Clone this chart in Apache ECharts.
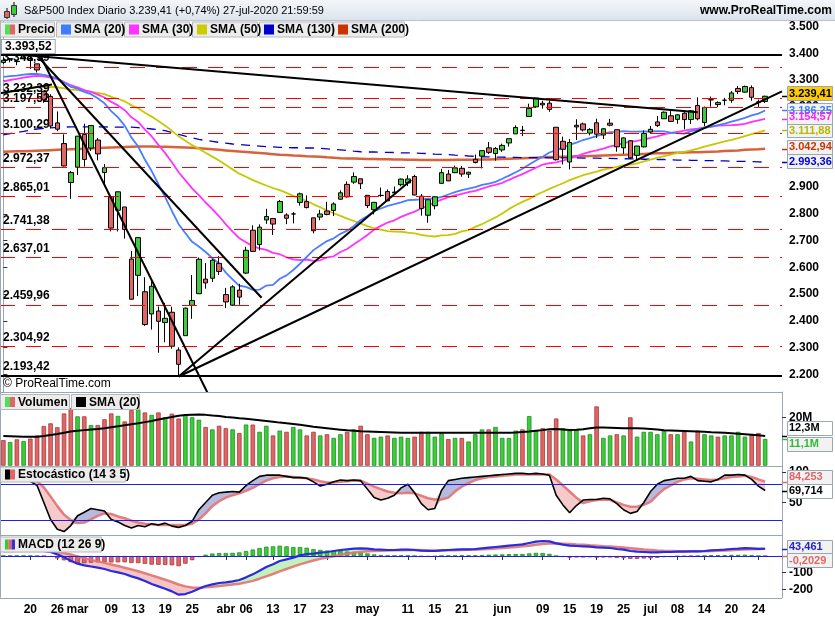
<!DOCTYPE html>
<html>
<head>
<meta charset="utf-8">
<script src="https://cdn.jsdelivr.net/npm/echarts@6/dist/echarts.min.js"></script>
<style>
html,body{margin:0;padding:0;background:#fff;}
#chart{width:835px;height:620px;}
</style>
</head>
<body>
<div id="chart"></div>
<script>
// daily sessions shown (DD/MM, 2020)
const dates = ['13/02','14/02','18/02','19/02','20/02','21/02','24/02','25/02','26/02','27/02','28/02',
'02/03','03/03','04/03','05/03','06/03','09/03','10/03','11/03','12/03','13/03','16/03','17/03','18/03','19/03','20/03','23/03','24/03','25/03','26/03','27/03','30/03','31/03',
'01/04','02/04','03/04','06/04','07/04','08/04','09/04','13/04','14/04','15/04','16/04','17/04','20/04','21/04','22/04','23/04','24/04','27/04','28/04','29/04','30/04',
'01/05','04/05','05/05','06/05','07/05','08/05','11/05','12/05','13/05','14/05','15/05','18/05','19/05','20/05','21/05','22/05','26/05','27/05','28/05','29/05',
'01/06','02/06','03/06','04/06','05/06','08/06','09/06','10/06','11/06','12/06','15/06','16/06','17/06','18/06','19/06','22/06','23/06','24/06','25/06','26/06','29/06','30/06',
'01/07','02/07','06/07','07/07','08/07','09/07','10/07','13/07','14/07','15/07','16/07','17/07','20/07','21/07','22/07','23/07','24/07','27/07'];

const opens = [3365.90,3378.08,3369.04,3380.39,3380.45,3360.50,3257.61,3238.94,3139.90,3062.54,2916.90,
2974.28,3096.46,3045.75,3075.70,2954.20,2863.89,2813.48,2825.60,2630.86,2569.99,2508.59,2425.66,2436.50,2393.48,2431.94,2290.71,2344.44,2457.77,2501.29,2555.87,2558.98,2614.69,
2498.08,2458.54,2514.92,2578.28,2738.65,2685.00,2776.99,2782.46,2805.10,2795.64,2799.34,2842.43,2845.62,2784.81,2787.89,2810.42,2812.64,2854.65,2909.96,2918.46,2930.91,
2869.09,2815.01,2868.88,2883.14,2878.26,2908.83,2915.46,2939.50,2865.86,2794.54,2829.95,2913.86,2948.59,2953.63,2969.95,2948.05,3004.08,3015.65,3046.61,3025.17,
3038.78,3064.78,3098.90,3111.56,3163.84,3199.92,3213.32,3213.42,3123.53,3071.04,2993.76,3131.00,3136.13,3101.64,3140.29,3094.42,3138.70,3114.40,3046.60,3073.20,3018.59,3050.20,
3105.92,3143.64,3155.29,3166.44,3153.07,3176.17,3152.47,3205.08,3141.11,3225.98,3208.36,3224.21,3224.29,3268.52,3254.86,3271.64,3218.58,3219.84];
const highs = [3385.09,3380.69,3375.01,3393.52,3389.15,3360.76,3259.81,3246.99,3182.51,3097.07,2959.72,
3090.96,3136.72,3130.97,3083.04,2985.93,2863.89,2882.59,2825.60,2660.95,2711.33,2562.98,2553.93,2453.57,2466.97,2453.01,2300.73,2449.71,2571.42,2637.01,2615.91,2631.80,2641.39,
2522.75,2533.22,2538.18,2676.85,2756.89,2760.75,2818.57,2782.46,2851.85,2801.88,2806.51,2879.22,2868.98,2785.54,2815.10,2844.90,2842.71,2887.72,2921.15,2954.86,2930.91,
2869.09,2844.24,2898.23,2891.11,2901.92,2932.16,2944.25,2945.82,2874.14,2852.80,2865.01,2968.09,2964.21,2980.29,2978.50,2956.76,3021.72,3036.25,3068.67,3049.17,
3062.18,3081.07,3130.94,3128.91,3211.72,3233.13,3222.71,3223.27,3123.53,3088.42,3079.76,3153.45,3141.16,3120.00,3155.53,3120.92,3154.90,3115.01,3086.25,3073.73,3053.89,3111.51,
3128.44,3165.81,3182.59,3184.15,3171.80,3179.78,3186.82,3235.32,3200.95,3238.28,3220.39,3233.52,3258.61,3277.29,3279.32,3279.99,3227.26,3241.43];
const lows = [3360.52,3366.15,3355.61,3378.83,3341.02,3328.45,3214.65,3118.77,3108.99,2977.39,2855.84,
2945.19,2976.63,3034.38,2999.83,2901.54,2734.43,2734.00,2707.22,2478.86,2492.37,2380.94,2367.04,2280.52,2319.78,2295.56,2191.86,2344.44,2407.53,2500.72,2520.02,2545.28,2571.15,
2447.49,2455.79,2459.96,2574.57,2657.67,2663.30,2762.36,2721.17,2805.10,2761.54,2764.32,2830.88,2820.43,2727.10,2775.95,2794.26,2791.76,2852.89,2860.71,2912.16,2892.47,
2821.61,2797.85,2863.55,2847.65,2876.48,2902.88,2903.44,2869.59,2793.15,2766.64,2816.78,2913.86,2922.35,2953.63,2938.57,2933.59,2988.17,2969.75,3023.40,2998.61,
3031.54,3051.64,3098.90,3090.41,3163.84,3196.00,3193.11,3181.49,2999.49,2984.47,2965.66,3076.06,3108.03,3093.51,3083.11,3079.39,3127.12,3032.13,3024.01,3004.63,2999.74,3047.83,
3101.17,3124.52,3155.29,3142.93,3136.53,3115.70,3136.22,3149.43,3127.66,3200.76,3198.59,3205.65,3215.16,3247.77,3253.10,3222.66,3200.05,3214.25];
const closes = [3373.94,3380.16,3370.29,3386.15,3373.23,3337.75,3225.89,3128.21,3116.39,2978.76,2954.22,
3090.23,3003.37,3130.12,3023.94,2972.37,2746.56,2882.23,2741.38,2480.64,2711.02,2386.13,2529.19,2398.10,2409.39,2304.92,2237.40,2447.33,2475.56,2630.07,2541.47,2626.65,2584.59,
2470.50,2526.90,2488.65,2663.68,2659.41,2749.98,2789.82,2761.63,2846.06,2783.36,2799.55,2874.56,2823.16,2736.56,2799.31,2797.80,2836.74,2878.48,2863.39,2939.51,2912.43,
2830.71,2842.74,2868.44,2848.42,2881.19,2929.80,2930.19,2870.12,2820.00,2852.50,2863.70,2953.91,2922.94,2971.61,2948.51,2955.45,2991.77,3036.13,3029.73,3044.31,
3055.73,3080.82,3122.87,3112.35,3193.93,3232.39,3207.18,3190.14,3002.10,3041.31,3066.59,3124.74,3113.49,3115.34,3097.74,3117.86,3131.29,3050.33,3083.76,3009.05,3053.24,3100.29,
3115.86,3130.01,3179.72,3145.32,3169.94,3152.05,3185.04,3155.22,3197.52,3226.56,3215.57,3224.73,3251.84,3257.30,3276.02,3235.66,3215.63,3239.41];
const prevClose = 3379.45;

const sma20 = [3311.5,3314.7,3316.7,3320.0,3322.6,3323.2,3319.7,3313.9,3305.9,3291.2,3274.7,
3267.9,3255.6,3247.2,3231.7,3213.0,3183.9,3160.4,3129.6,3084.7,3051.6,
3001.9,2959.8,2910.4,2862.2,2810.6,2761.2,2727.2,2695.2,2677.8,2657.2,
2634.0,2613.1,2580.1,2555.2,2531.0,2526.9,2515.8,2516.2,2531.7,2534.2,
2557.2,2569.9,2590.0,2613.3,2639.2,2664.2,2681.8,2697.9,2708.2,2725.1,
2736.9,2754.6,2776.7,2791.9,2809.6,2819.8,2829.3,2835.9,2842.9,2851.3,
2852.5,2854.3,2856.9,2856.4,2862.9,2872.2,2880.8,2888.3,2894.2,2899.9,
2908.5,2913.0,2919.6,2930.9,2942.8,2955.5,2968.7,2984.3,2999.4,3013.2,
3029.2,3038.3,3047.7,3057.8,3066.3,3075.8,3083.0,3090.5,3098.6,3105.6,
3106.3,3109.0,3107.2,3107.1,3108.1,3107.7,3108.6,3107.9,3103.5,3101.6,
3099.7,3108.8,3114.5,3121.0,3126.1,3131.2,3136.7,3144.4,3151.4,3158.6,
3167.9,3174.5,3186.25];
const sma30 = [3295.3,3300.2,3304.3,3309.3,3313.3,3315.4,3314.1,3308.8,3303.2,3292.9,3280.8,
3272.8,3262.2,3255.8,3245.7,3234.9,3218.3,3205.2,3187.5,3160.7,3143.5,
3114.7,3089.1,3057.9,3026.7,2992.6,2955.4,2925.1,2895.0,2870.2,2842.2,
2817.4,2790.7,2760.6,2733.6,2709.0,2693.5,2678.3,2670.7,2665.2,2654.2,
2649.0,2637.4,2629.9,2626.6,2629.2,2624.3,2626.2,2636.8,2641.0,2657.4,
2668.5,2686.5,2703.3,2720.8,2741.0,2755.0,2767.4,2775.8,2788.7,2798.8,
2808.3,2820.0,2830.9,2843.4,2853.1,2861.9,2869.3,2874.6,2881.1,2886.0,
2894.4,2902.1,2907.8,2915.6,2927.1,2937.9,2948.4,2960.3,2972.1,2983.6,
2989.0,2992.0,2999.0,3006.5,3015.0,3023.8,3031.6,3037.2,3043.5,3052.2,
3056.9,3064.6,3069.4,3072.7,3078.6,3083.4,3089.5,3097.0,3102.1,3106.6,
3110.7,3115.4,3118.7,3122.6,3126.1,3129.5,3130.5,3131.2,3132.9,3135.8,
3143.6,3149.4,3154.57];
const sma50 = [3249.2,3254.5,3259.6,3264.4,3269.1,3273.2,3274.9,3274.1,3273.1,3268.8,3264.0,
3262.0,3258.0,3256.2,3252.2,3247.2,3237.3,3230.1,3220.5,3205.5,3194.6,
3177.6,3163.3,3146.5,3129.6,3110.2,3089.6,3072.8,3056.6,3043.4,3027.9,
3013.8,2999.1,2982.1,2966.1,2950.0,2938.4,2926.1,2915.6,2905.7,2896.4,
2888.3,2878.0,2867.3,2857.9,2847.8,2835.5,2824.3,2812.7,2802.0,2792.0,
2781.9,2773.0,2763.8,2753.7,2746.0,2740.8,2735.4,2733.4,2732.9,2729.7,
2727.0,2720.8,2717.4,2715.2,2719.3,2720.1,2724.7,2734.1,2739.0,2751.1,
2761.2,2773.8,2786.5,2801.5,2818.4,2831.9,2844.6,2855.9,2869.7,2881.3,
2893.4,2904.0,2914.3,2925.9,2935.1,2944.2,2951.5,2957.7,2964.8,2970.5,
2975.8,2981.5,2984.2,2988.8,2996.1,3002.4,3009.0,3015.9,3021.2,3027.3,
3031.6,3037.1,3043.6,3050.7,3057.9,3064.0,3070.5,3076.5,3082.5,3090.0,
3097.5,3104.5,3111.88];
const sma130 = [3095,3100,3104,3108,3113,3117,3119,3121,3123,3124,3125,
3125,3125,3125,3125,3125,3124,3124,3124,3124,3122,
3120,3117,3114,3111,3104,3097,3090,3084,3078,3074,
3071,3067,3064,3061,3059,3057,3055,3053,3051,3050,
3048,3048,3047,3047,3046,3046,3045,3043,3041,3039,
3037,3034,3032,3031,3031,3030,3030,3029,3028,3028,
3027,3026,3025,3023,3022,3021,3019,3018,3016,3015,
3013,3013,3012,3012,3011,3011,3010,3010,3010,3010,
3009,3009,3009,3009,3009,3008,3008,3008,3007,3007,
3006,3006,3005,3005,3004,3004,3003,3003,3002,3001,
3001,3000,3000,2999,2999,2998,2998,2997,2996,2996,
2995,2994,2993.36];
const sma200 = [3032,3033,3034,3034,3035,3036,3037,3038,3039,3040,3041,
3042,3043,3044,3046,3047,3048,3049,3050,3051,3052,
3052,3052,3051,3051,3050,3049,3048,3047,3045,3043,
3041,3039,3037,3035,3033,3031,3029,3027,3025,3023,
3021,3020,3018,3017,3015,3014,3013,3011,3010,3008,
3007,3007,3006,3005,3005,3004,3004,3003,3003,3002,
3002,3001,3001,3001,3001,3001,3002,3002,3002,3002,
3003,3003,3004,3005,3006,3007,3008,3009,3010,3011,
3012,3012,3013,3014,3015,3015,3016,3017,3018,3019,
3020,3021,3022,3023,3024,3025,3026,3026,3027,3028,
3029,3030,3030,3031,3032,3033,3035,3036,3037,3039,
3040,3041,3042.94];

// volume in millions
const volumes = [10.6,9.8,10.9,10.2,11.2,12.5,16.4,17.5,15.9,21.6,23.8,
20.4,20.4,16.8,16.8,19.2,21.6,20.6,18.3,23.0,23.3,
22.0,21.0,22.0,20.0,21.5,19.5,21.0,20.0,19.0,16.0,
15.0,16.5,15.5,15.0,13.5,17.0,17.0,14.0,16.5,12.5,
14.5,14.0,16.0,15.0,12.5,14.0,12.5,13.0,11.5,13.0,
14.0,15.0,16.5,13.0,11.5,12.0,12.5,11.5,12.0,11.5,
12.0,14.0,14.0,12.0,13.5,11.0,11.5,11.5,10.0,13.0,
15.0,15.0,16.0,11.5,11.5,14.5,15.0,20.5,14.5,15.5,
14.5,19.5,15.5,14.5,15.0,12.5,13.0,24.5,11.5,12.5,
13.0,12.5,20.0,12.0,14.0,14.0,13.0,14.5,13.0,13.0,
14.0,10.0,14.5,13.0,12.5,12.0,12.5,12.5,14.0,12.0,
13.0,13.5,11.1];
const volSma = [12.3,12.2,12.1,12.0,12.0,12.0,12.3,12.7,13.1,13.6,14.1,
14.4,14.7,15.0,15.2,15.5,15.9,16.3,16.7,17.1,17.5,
18.0,18.5,19.1,19.6,20.1,20.6,20.9,21.1,21.2,21.0,
20.7,20.5,20.1,19.9,19.6,19.4,19.1,18.8,18.5,18.2,
17.8,17.5,17.2,16.9,16.5,16.1,15.8,15.5,15.2,14.9,
14.6,14.4,14.2,14.1,14.0,13.9,13.8,13.7,13.6,13.6,
13.6,13.6,13.6,13.6,13.6,13.6,13.6,13.6,13.6,13.6,
13.6,13.6,13.6,13.6,13.6,13.7,13.9,14.1,14.4,14.7,
15.1,15.2,15.0,14.8,14.9,15.1,15.5,15.8,15.8,15.7,
15.6,15.5,15.5,15.5,15.4,15.2,15.0,14.6,14.5,14.4,
14.3,14.2,14.1,14.0,13.8,13.7,13.6,13.4,13.2,13.0,
12.8,12.6,12.3];

const stochK = [88,90,86,92,85,78,50,22,6,2,12,
28,34,40,38,36,22,18,12,8,12,
10,15,13,16,11,9,12,19,38,50,
62,66,67,68,67,78,86,93,95,95,
95,93,91,91,90,84,77,80,84,87,
86,87,86,72,58,54,57,62,74,80,
66,48,38,40,70,86,88,90,91,92,
93,94,95,96,97,98,98,97,98,97,
95,62,46,33,45,54,55,55,57,56,
48,38,32,35,50,68,80,86,88,90,
90,93,86,85,84,88,95,95,96,95,
88,77,69.714];
const stochD = [86,87,88,89,88,85,75,60,44,30,21,
16,17,22,28,32,31,27,24,20,17,
15,14,13,13,13,13,13,15,22,32,
44,52,58,62,65,69,74,80,86,90,
92,93,92,91,90,88,85,83,83,84,
85,86,86,81,76,72,68,66,65,66,
65,61,57,55,55,58,68,76,82,87,
90,92,93,94,95,96,96,96,96,96,
96,88,78,68,58,49,52,54,55,54,
50,46,43,43,46,51,62,72,78,84,
88,90,89,88,87,88,90,92,93,94,
92,88,84.253];

const macdLine = [30,31,31,32,32,31,
30,24,10,-8,-28,-46,-56,-63,-70,-78,
-90,-98,-108,-122,-134,-150,-168,-182,-196,-212,-232,
-228,-214,-196,-180,-170,-162,-158,-152,-144,
-128,-110,-88,-66,-50,-30,-20,-10,4,12,
14,20,24,30,36,40,44,46,44,40,
38,36,36,38,38,36,32,30,30,34,
36,38,40,40,42,46,50,54,58,62,
66,70,78,86,90,88,76,68,62,60,
58,56,52,50,48,42,38,30,26,24,
22,22,24,24,26,26,28,28,30,34,
36,38,42,44,47,46,43,43.461];
const macdSignal = [28,29,29.5,30,30.5,30.5,
30.5,29,25,18,9,-2,-13,-23,-32,-41,
-51,-60,-70,-80,-91,-103,-116,-129,-142,-156,-171,
-182,-189,-190,-188,-185,-180,-176,-171,-166,
-158,-149,-136,-122,-108,-92,-78,-64,-50,-38,
-27,-17,-9,-1,6,13,19,24,28,30,
32,33,34,35,35.5,36,35,34,33,33,
34,35,36,37,38,40,42,45,48,51,
54,58,62,67,72,75,76,74,72,69,
67,64,62,59,57,54,51,47,43,39,
36,33,31,30,29,28.5,28.5,28.5,29,30,
31,33,35,37,39,41,42.5,43.664];
const macdHist = [2,2,1.5,2,1.5,0.5,
-0.5,-5,-15,-26,-37,-44,-43,-40,-38,-37,
-39,-38,-38,-42,-43,-47,-52,-53,-54,-56,-61,
-46,-25,-6,8,15,18,18,19,22,
30,39,48,56,58,62,58,54,54,50,
41,37,33,31,30,27,25,22,16,10,
6,3,2,3,2.5,0,-3,-4,-3,1,
2,3,4,3,4,6,8,9,10,11,
12,12,16,19,18,13,0,-6,-10,-9,
-9,-8,-10,-9,-9,-12,-13,-17,-17,-15,
-14,-11,-7,-6,-3,-2.5,-0.5,-0.5,1,4,
5,5,7,7,8,5,0.5,-0.2029];

// axis tick labels
const tickDates = ['20/02','26/02','02/03','09/03','13/03','19/03','25/03','01/04','06/04','13/04','17/04','23/04','01/05','11/05','15/05','21/05','01/06','09/06','15/06','19/06','25/06','01/07','08/07','14/07','20/07','24/07'];
const tickTexts = ['20','26','mar','09','13','19','25','abr','06','13','17','23','may','11','15','21','jun','09','15','19','25','jul','08','14','20','24'];
const priceTicks = [2200,2300,2400,2500,2600,2700,2800,2900,3000,3100,3200,3300,3400,3500];
const volTicks = [20];
const stochTicks = [50,100];
const macdTicks = [-200,-100];

// drawn levels and trend lines (session index, price)
const solidLevels = [3393.52, 2193.42];
const dashedLevels = [3348.59, 3232.39, 3197.52, 3100.29, 2972.37, 2865.01, 2741.38, 2637.01, 2459.96, 2304.92];
const trendLines = [
  [[3, 3393.52], [103, 3180]],
  [[5.5, 3391], [30.3, 2130]],
  [[5, 3391], [38.3, 2486]],
  [[26, 2191.86], [60.5, 2926]],
  [[26, 2191.86], [115.5, 3258]],
  [[-0.5, 3251], [7.2, 3283]]
];

const FONT = '"Liberation Sans", Arial, sans-serif';
const cats = dates.concat(['', ' ']);
const last = closes.length - 1;

function fmt(v, d) {
  const s = Math.abs(v).toFixed(d).split('.');
  const int = s[0].replace(/\B(?=(\d{3})+(?!\d))/g, '.');
  return (v < 0 ? '-' : '') + int + (d ? ',' + s[1] : '');
}

const chart = echarts.init(document.getElementById('chart'));

const grids = [
  {left: 0, width: 782, top: 21, height: 371},
  {left: 0, width: 782, top: 392, height: 73.7},
  {left: 0, width: 782, top: 465.7, height: 69.3},
  {left: 0, width: 782, top: 535, height: 62.7}
];

const showTick = (i, v) => tickDates.indexOf(v) >= 0;
const xAxes = [0, 1, 2, 3].map(i => ({
  type: 'category', gridIndex: i, data: cats, boundaryGap: true,
  axisLine: {show: false},
  axisTick: {show: i === 3, alignWithLabel: true, interval: showTick, length: 4, lineStyle: {color: '#333'}},
  axisLabel: {show: i === 3, interval: showTick, formatter: v => tickTexts[tickDates.indexOf(v)],
    color: '#000', fontWeight: 'bold', fontSize: 12, fontFamily: FONT, margin: 6},
  splitLine: {show: false}
}));
xAxes.push({type: 'value', gridIndex: 0, min: -0.5, max: cats.length - 0.5, show: false});

function yAx(i, min, max, ticks, f) {
  return {
    type: 'value', gridIndex: i, position: 'right', min, max,
    axisLine: {show: true, lineStyle: {color: '#9aa6b2'}},
    axisTick: {show: true, length: 4, customValues: ticks, lineStyle: {color: '#333'}},
    axisLabel: {customValues: ticks, formatter: f, color: '#000', fontWeight: 'bold', fontSize: 12, fontFamily: FONT, margin: 7},
    splitLine: {show: false}
  };
}
const yAxes = [
  yAx(0, 2133.85, 3520.75, priceTicks, v => fmt(v, 0)),
  yAx(1, 0, 30.45, volTicks, v => v + 'M'),
  yAx(2, -3.6, 110.6, stochTicks, v => String(v)),
  yAx(3, -250, 126, macdTicks, v => String(v))
];

function line(name, data, color, width, xi, yi, extra) {
  return Object.assign({
    name, type: 'line', data, xAxisIndex: xi, yAxisIndex: yi, symbol: 'none', showSymbol: false,
    lineStyle: {color, width}, silent: true, z: 3
  }, extra || {});
}
function fillStack(stack, a, b, xi, yi, upColor, downColor) {
  const base = a.map((v, i) => Math.min(v, b[i]));
  const pos = a.map((v, i) => Math.max(v - b[i], 0));
  const neg = a.map((v, i) => Math.max(b[i] - v, 0));
  const common = {type: 'line', xAxisIndex: xi, yAxisIndex: yi, stack, stackStrategy: 'all',
    symbol: 'none', showSymbol: false, silent: true, lineStyle: {width: 0, opacity: 0}, z: 1};
  return [
    Object.assign({name: stack + 'b', data: base}, common),
    Object.assign({name: stack + 'p', data: pos, areaStyle: {color: upColor, opacity: 1}}, common),
    Object.assign({name: stack + 'n', data: neg, areaStyle: {color: downColor, opacity: 1}}, common)
  ];
}

const levelLabel = {show: true, position: 'insideStartTop', distance: 3, formatter: p => fmt(p.value, 2),
  color: '#000', fontWeight: 'bold', fontSize: 12, fontFamily: FONT};
const levelData = dashedLevels.map(v => ({yAxis: v, lineStyle: {color: '#ff0000', width: 1, type: [15, 11]}}))
  .concat(solidLevels.map((v, i) => ({yAxis: v, lineStyle: {color: '#000', width: 2, type: 'solid'},
    label: i === 0 ? {backgroundColor: '#fff', borderColor: '#9aa6b2', borderWidth: 1, padding: [1, 3, 0, 3], distance: 2} : {}})));

const candle = cats.slice(0, closes.length).map((c, i) => [opens[i], closes[i], lows[i], highs[i]]);
const upDown = closes.map((c, i) => c >= (i ? closes[i - 1] : prevClose));

const series = [
  line('SMA200', sma200, '#d0471a', 2.5, 0, 0, {lineStyle: {color: '#d0471a', width: 2.5, opacity: 0.85}}),
  line('SMA130', sma130, '#0000c8', 1.3, 0, 0, {lineStyle: {color: '#0000c8', width: 1.3, type: [9, 7]}}),
  line('SMA50', sma50, '#c8c800', 1.8, 0, 0),
  line('SMA30', sma30, '#ff33ff', 1.8, 0, 0),
  line('SMA20', sma20, '#4a7dff', 1.8, 0, 0),
  {
    name: 'Precio', type: 'candlestick', xAxisIndex: 0, yAxisIndex: 0, data: candle, barWidth: 5, silent: true, z: 4,
    itemStyle: {color: '#3ccc3c', color0: '#e06666', borderColor: '#000', borderColor0: '#000', borderWidth: 1},
    markLine: {symbol: ['none', 'none'], silent: true, animation: false, label: levelLabel, data: levelData}
  }
];
trendLines.forEach((t, i) => series.push(line('T' + i, t, '#000', 2, 4, 0, {z: 6})));

series.push({
  name: 'Volumen', type: 'bar', xAxisIndex: 1, yAxisIndex: 1, barWidth: 4.5, silent: true,
  data: volumes.map((v, i) => ({value: v, itemStyle: upDown[i]
    ? {color: '#3ccc3c', borderColor: '#1e901e', borderWidth: 0.8}
    : {color: '#e06666', borderColor: '#a83a3a', borderWidth: 0.8}}))
});
series.push(line('VolSMA', volSma, '#000', 2, 1, 1));

fillStack('st', stochK, stochD, 2, 2, '#b6badf', '#f6caca').forEach(s => series.push(s));
series.push(line('StochD', stochD, '#e07373', 2.5, 2, 2, {lineStyle: {color: '#e07373', width: 2.5, opacity: 0.9},
  markLine: {symbol: ['none', 'none'], silent: true, animation: false, label: {show: false},
    data: [{yAxis: 80}, {yAxis: 20}], lineStyle: {color: '#1f1fe6', width: 1.2, type: 'solid'}}}));
series.push(line('StochK', stochK, '#000', 1.6, 2, 2));

series.push({
  name: 'Hist', type: 'bar', xAxisIndex: 3, yAxisIndex: 3, barWidth: 4.5, silent: true, z: 2,
  data: macdHist.map(v => ({value: v, itemStyle: v >= 0
    ? {color: '#3ccc3c', borderColor: '#1e901e', borderWidth: 0.8}
    : {color: '#e06666', borderColor: '#a83a3a', borderWidth: 0.8}}))
});
fillStack('md', macdLine, macdSignal, 3, 3, '#c4f0bc', '#f5c4c4').forEach(s => series.push(s));
series.push(line('Signal', macdSignal, '#e07373', 2.5, 3, 3, {lineStyle: {color: '#e07373', width: 2.5, opacity: 0.9},
  markLine: {symbol: ['none', 'none'], silent: true, animation: false, label: {show: false},
    data: [{yAxis: 0}], lineStyle: {color: '#1f1fe6', width: 1.2, type: 'solid'}}}));
series.push(line('MACD', macdLine, '#2a2ae0', 2.2, 3, 3));

chart.setOption({
  animation: false,
  backgroundColor: '#fff',
  grid: grids,
  xAxis: xAxes,
  yAxis: yAxes,
  series
});

// ---------- overlays ----------
function rect(x, y, w, h, fill, stroke) {
  return {type: 'rect', shape: {x, y, width: w, height: h}, style: {fill, stroke: stroke || null, lineWidth: 1}, z: 100, silent: true};
}
function text(x, y, s, color, opts) {
  return {type: 'text', x, y, silent: true, z: 102, style: Object.assign({
    text: s, fill: color || '#000', font: 'bold 12px ' + FONT,
    textAlign: 'left', align: 'left', textVerticalAlign: 'middle', verticalAlign: 'middle'}, opts || {})};
}
function hline(x1, x2, y, color, w) {
  return {type: 'line', shape: {x1, y1: y, x2, y2: y}, style: {stroke: color, lineWidth: w || 1}, z: 99, silent: true};
}
function vline(x, y1, y2, color) {
  return {type: 'line', shape: {x1: x, y1, x2: x, y2}, style: {stroke: color, lineWidth: 1}, z: 99, silent: true};
}
function legend(x, y, w, label, colors) {
  const out = [rect(x + 0.5, y + 0.5, w, 15, '#ececec', '#b4b8bd')];
  const sw = 10 / colors.length;
  colors.forEach((c, i) => out.push(rect(x + 5 + i * sw, y + 3, sw, 10, c)));
  out.push(text(x + 18, y + 8.5, label));
  return out;
}

const g = [];
// title bar
g.push({type: 'rect', shape: {x: 0, y: 0, width: 835, height: 20}, z: 98, silent: true,
  style: {fill: new echarts.graphic.LinearGradient(0, 0, 0, 1, [{offset: 0, color: '#f3f6f9'}, {offset: 1, color: '#dce4ec'}])}});
g.push(hline(0, 835, 20.5, '#b8c2cc'));
g.push(vline(7, 8, 19, '#000'), rect(4.5, 11.5, 5, 6, '#e06666', '#333'));
g.push(vline(14, 2, 17, '#000'), rect(11.5, 5.5, 5, 9, '#3ccc3c', '#333'));
const pct = (closes[last] / closes[last - 1] - 1) * 100;
g.push(text(24, 10.5, 'S&P500 Index Diario ' + fmt(closes[last], 2) + ' (+' + fmt(pct, 2) + '%) 27-jul-2020 21:59:59', '#000',
  {font: '11px ' + FONT}));
g.push(text(832, 10.5, 'www.ProRealTime.com', '#000', {textAlign: 'right', align: 'right'}));

// panel frames
g.push(vline(0.5, 21, 597.7, '#9aa6b2'));
[392, 465.7, 535, 597.7].forEach(y => g.push(hline(0, 782, Math.round(y) + 0.5, '#9aa6b2')));

// legends
g.push(...legend(0, 21.5, 54, 'Precio', ['#55dd55', '#e06666']));
g.push(...legend(56, 21.5, 66, 'SMA (20)', ['#3d7cff']));
g.push(...legend(124, 21.5, 65, 'SMA (30)', ['#ff33ff']));
g.push(...legend(192, 21.5, 65, 'SMA (50)', ['#cccc00']));
g.push(...legend(259, 21.5, 73, 'SMA (130)', ['#0000cc']));
g.push(...legend(333, 21.5, 71, 'SMA (200)', ['#cc3300']));
g.push(...legend(0, 394, 69, 'Volumen', ['#55dd55', '#e06666']));
g.push(...legend(71, 394, 68, 'SMA (20)', ['#000']));
g.push(...legend(0, 466.5, 125, 'Estocástico (14 3 5)', ['#000', '#e06666']));
g.push(...legend(0, 536.5, 101, 'MACD (12 26 9)', ['#33cc33', '#e06666', '#3333cc']));
g.push(text(3, 384, '© ProRealTime.com', '#000', {font: '12px ' + FONT}));

// last-value boxes on the right
function valueBox(axis, value, label, color, bg, shift) {
  const y = chart.convertToPixel({yAxisIndex: axis}, value);
  const c = y + (shift || 0);
  g.push(hline(782, 787, Math.round(y) + 0.5, color, 1.5));
  g.push(rect(787.5, Math.round(c - 7) + 0.5, 45, 14, bg, '#9aa6b2'));
  g.push(text(789, c + 0.5, label, color, {font: 'bold 11px ' + FONT}));
}
valueBox(0, sma200[last], fmt(sma200[last], 2), '#cc3300', '#f2f2f2', -2);
valueBox(0, sma130[last], fmt(sma130[last], 2), '#0000cc', '#f2f2f2', -1);
valueBox(0, sma50[last], fmt(sma50[last], 2), '#b8b800', '#f2f2f2', 0);
valueBox(0, sma20[last], fmt(sma20[last], 2), '#3d7cff', '#f2f2f2', 0);
valueBox(0, sma30[last], fmt(sma30[last], 2), '#ff22ff', '#f2f2f2', -2);
valueBox(0, closes[last], fmt(closes[last], 2), '#000', '#ffcc00', -3);
valueBox(1, volSma[last], fmt(volSma[last], 1) + 'M', '#000', '#fff', -8);
valueBox(1, volumes[last], fmt(volumes[last], 1) + 'M', '#33bb33', '#f2f2f2', 5);
valueBox(2, stochD[last], fmt(stochD[last], 3), '#e06666', '#f2f2f2', -5);
valueBox(2, stochK[last], fmt(stochK[last], 3), '#000', '#fff', 0);
valueBox(3, macdLine[last], fmt(macdLine[last], 3), '#2222dd', '#f2f2f2', -2);
valueBox(3, macdHist[last], fmt(macdHist[last], 4), '#e06666', '#f2f2f2', 4);

chart.setOption({graphic: g});
</script>
</body>
</html>
